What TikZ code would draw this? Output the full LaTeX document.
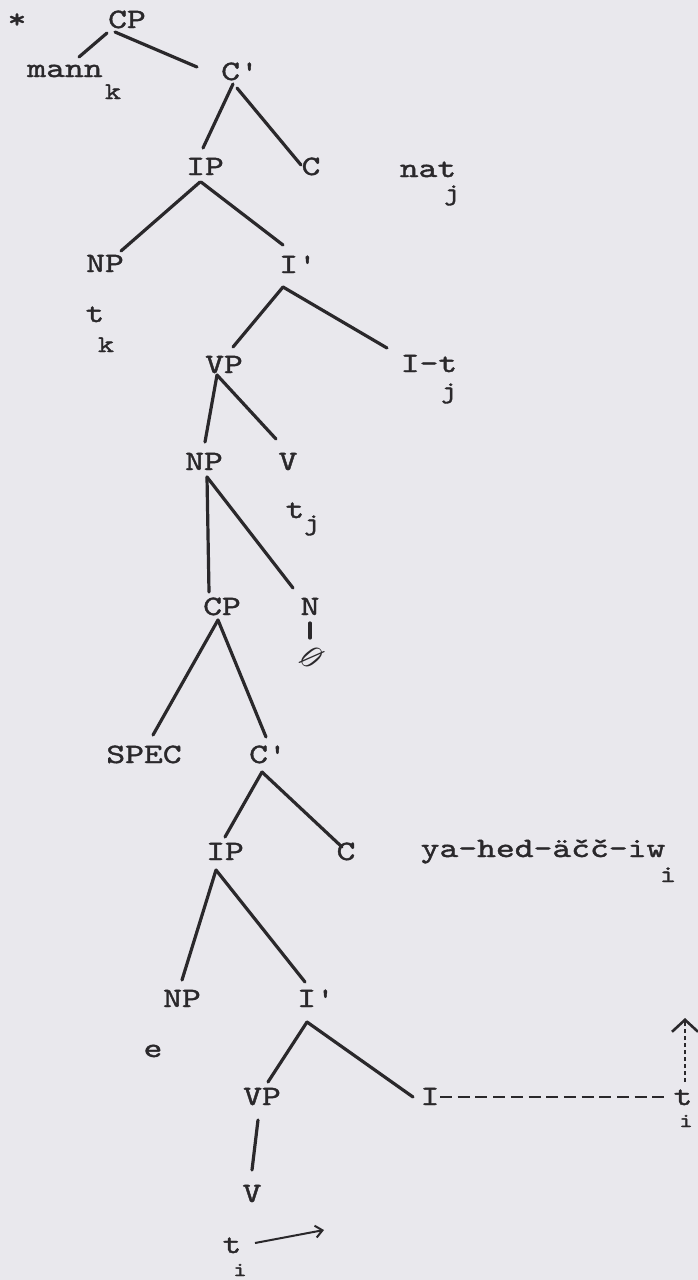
\documentclass[tikz,border=0pt]{standalone}
\usepackage{fontspec}
\usetikzlibrary{arrows.meta, calc, positioning}
\newfontfamily\typew{lmmono10-regular.otf}[FakeStretch=1.28,FakeBold=1.4]
\definecolor{paper}{RGB}{233,232,237}
\definecolor{ink}{RGB}{42,40,43}
\tikzset{
  lbl/.style={font=\typew\fontsize{28}{30}\selectfont, text=ink, inner sep=0pt, anchor=base},
  sub/.style={font=\typew\fontsize{24}{26}\selectfont, text=ink, inner sep=0pt, anchor=base},
  branch/.style={draw=ink, line width=3.2pt, line cap=round},
}

\begin{document}
\begin{tikzpicture}[x=1pt, y=-1pt]
    \fill[paper] (0,0) rectangle (698,1280);
    \useasboundingbox (0,0) rectangle (698,1280);

    % upper clause
    \node[lbl] (star) at (17,28) {*};
    \node[lbl] (cp1) at (127,28) {CP};
    \node[lbl] (mann) at (65,77) {mann};
    \node[sub] (k1) at (113,99) {k};
    \node[lbl] (cbar1) at (240,80) {C'};
    \node[lbl] (ip1) at (205,175) {IP};
    \node[lbl] (c1) at (311,175) {C};
    \node[lbl] (nat) at (428,177) {nat};
    \node[sub] (j1) at (452,200) {j};
    \node[lbl] (np1) at (105,272) {NP};
    \node[lbl] (tk) at (95,322) {t};
    \node[sub] (k2) at (106,352) {k};
    \node[lbl] (ibar1) at (298,273) {I'};
    \node[lbl] (vp1) at (224,373) {VP};
    \node[lbl] (it) at (429,372) {I-t};
    \node[sub] (j2) at (449,398) {j};
    \node[lbl] (np2) at (204,470) {NP};
    \node[lbl] (v1) at (288,470) {V};
    \node[lbl] (tj) at (295,518) {t};
    \node[sub] (j3) at (312,530) {j};
    \node[lbl] (cp2) at (222,615) {CP};
    \node[lbl] (n) at (310,615) {N};
    \node[text=ink, scale=3.2, rotate=-50] (zero) at (312,657) {$\emptyset$};

    % relative clause
    \node[lbl] (spec) at (144,763) {SPEC};
    \node[lbl] (cbar2) at (268,763) {C'};
    \node[lbl] (ip2) at (225,860) {IP};
    \node[lbl] (c2) at (346,860) {C};
    \node[lbl] (yahed) at (543,857) {ya-hed-äčč-iw};
    \node[sub] (i1) at (668,882) {i};
    \node[lbl] (np3) at (182,1007) {NP};
    \node[lbl] (e) at (153,1057) {e};
    \node[lbl] (ibar2) at (316,1007) {I'};
    \node[lbl] (vp2) at (262,1105) {VP};
    \node[lbl] (i2) at (430,1105) {I};
    \node[lbl] (tr) at (683,1105) {t};
    \node[sub, font=\typew\fontsize{20}{22}\selectfont] (i3) at (686,1127) {i};
    \node[lbl] (v2) at (252,1202) {V};
    \node[lbl] (tb) at (232,1253) {t};
    \node[sub, font=\typew\fontsize{20}{22}\selectfont] (i4) at (240,1276) {i};
    \coordinate (bend) at (324,1230);
    \coordinate (uptip) at (685,1018);

    % branches
    \draw[branch] ($(cp1.base)+(-20,5)$) -- ($(mann.base)+(14,-20)$);
    \draw[branch] ($(cp1.base)+(-12,4)$) -- ($(cbar1.base)+(-43,-13)$);
    \draw[branch] ($(cbar1.base)+(-7,4)$) -- ($(ip1.base)+(-2,-27)$);
    \draw[branch] ($(cbar1.base)+(-3,8)$) -- ($(c1.base)+(-10,-10)$);
    \draw[branch] ($(ip1.base)+(-5,7)$) -- ($(np1.base)+(16,-21)$);
    \draw[branch] ($(ip1.base)+(-4,7)$) -- ($(ibar1.base)+(-15,-28)$);
    \draw[branch] ($(ibar1.base)+(-15,14)$) -- ($(vp1.base)+(9,-26)$);
    \draw[branch] ($(ibar1.base)+(-15,14)$) -- ($(it.base)+(-42,-24)$);
    \draw[branch] ($(vp1.base)+(-7,2)$) -- ($(np2.base)+(1,-28)$);
    \draw[branch] ($(vp1.base)+(-7,2)$) -- ($(v1.base)+(-12,-31)$);
    \draw[branch] ($(np2.base)+(3,7)$) -- ($(cp2.base)+(-13,-23)$);
    \draw[branch] ($(np2.base)+(3,7)$) -- ($(n.base)+(-17,-27)$);
    \draw[branch] ($(n.base)+(0,8)$) -- ($(zero.center)+(-2,-19)$);
    \draw[branch] ($(cp2.base)+(-4,5)$) -- ($(spec.base)+(9,-28)$);
    \draw[branch] ($(cp2.base)+(-4,5)$) -- ($(cbar2.base)+(-2,-26)$);
    \draw[branch] ($(cbar2.base)+(-6,9)$) -- ($(ip2.base)+(0,-23)$);
    \draw[branch] ($(cbar2.base)+(-6,9)$) -- ($(c2.base)+(-4,-13)$);
    \draw[branch] ($(ip2.base)+(-9,10)$) -- ($(np3.base)+(0,-27)$);
    \draw[branch] ($(ip2.base)+(-9,10)$) -- ($(ibar2.base)+(-11,-25)$);
    \draw[branch] ($(ibar2.base)+(-9,15)$) -- ($(vp2.base)+(6,-23)$);
    \draw[branch] ($(ibar2.base)+(-9,15)$) -- ($(i2.base)+(-17,-8)$);
    \draw[branch] ($(vp2.base)+(-4,15)$) -- ($(v2.base)+(0,-32)$);

    % movement
    \draw[draw=ink, line width=2.4pt, dash pattern=on 12pt off 5.7pt]
        ($(i2.base)+(10,-8)$) -- ($(tr.base)+(-13,-8)$);
    \draw[draw=ink, line width=1.2pt, dash pattern=on 4pt off 3pt,
          -{Straight Barb[length=12pt, width=26pt, line width=2.6pt]}]
        ($(tr.base)+(2,-23)$) -- (uptip);
    \draw[draw=ink, line width=2pt,
          -{Straight Barb[length=7pt, width=12pt, line width=2pt]}]
        ($(tb.base)+(23,-10)$) -- (bend);
\end{tikzpicture}
\end{document}
